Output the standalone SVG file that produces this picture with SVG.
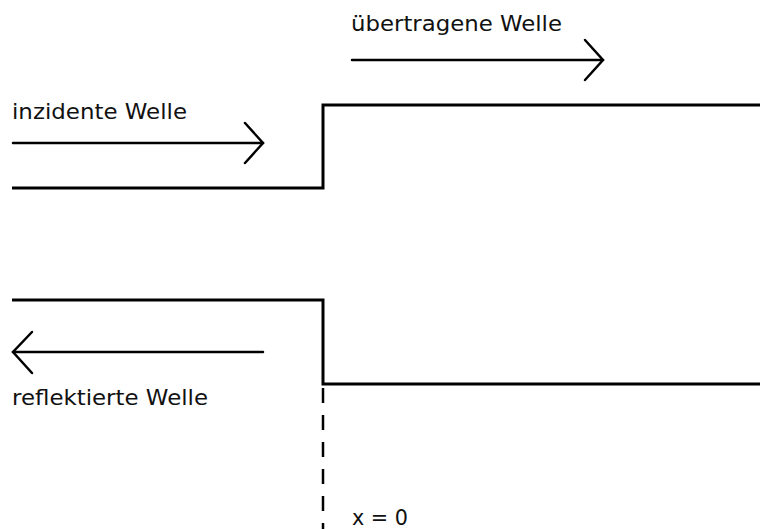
<svg xmlns="http://www.w3.org/2000/svg" width="760" height="529" viewBox="0 0 760 529">
<style>
.w{fill:none;stroke:#000;stroke-width:3;stroke-linejoin:miter}
.a{fill:none;stroke:#000;stroke-width:2.5;stroke-linecap:round;stroke-linejoin:miter}
.d{fill:none;stroke:#000;stroke-width:2.5;stroke-dasharray:15 12}
text{font-family:"DejaVu Sans","Liberation Sans",Arial,sans-serif;font-size:22px;fill:#111}
</style>
<rect width="760" height="529" fill="#fff"/>
<g id="top-wave">
<polyline class="w" points="12,188 323,188 323,105 760,105"/>
</g>
<g id="bottom-wave">
<polyline class="w" points="12,300 323,300 323,384 760,384"/>
</g>
<g id="connectors">
<g id="incident-arrow"><line class="a" x1="13" y1="143" x2="263" y2="143"/><polyline class="a" points="245,123 263,143 245,163"/></g>
<g id="transmitted-arrow"><line class="a" x1="352" y1="60" x2="603" y2="60"/><polyline class="a" points="585,40 603,60 585,80"/></g>
<g id="reflected-arrow"><line class="a" x1="13" y1="352" x2="263" y2="352"/><polyline class="a" points="32,332 13,352 32,373"/></g>
<line id="boundary" class="d" x1="323" y1="388" x2="323" y2="529"/>
</g>
<g id="labels">
<text x="12" y="119" textLength="175" lengthAdjust="spacingAndGlyphs">inzidente Welle</text>
<text x="351" y="31" textLength="211" lengthAdjust="spacingAndGlyphs">übertragene Welle</text>
<text x="12" y="405" textLength="196" lengthAdjust="spacingAndGlyphs">reflektierte Welle</text>
<text x="352" y="525" textLength="56" lengthAdjust="spacingAndGlyphs">x = 0</text>
</g>
</svg>
